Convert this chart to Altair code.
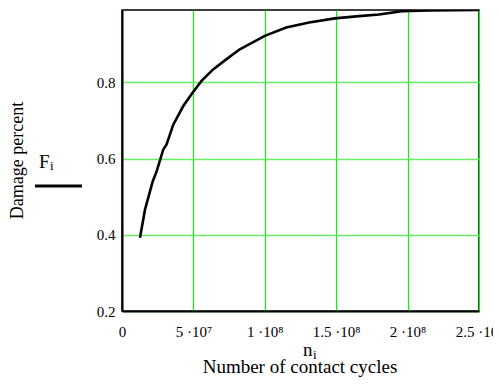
import altair as alt
import pandas as pd

# data
cycles = [1.26e7, 1.61e7, 2.15e7, 2.43e7, 2.89e7, 3.12e7, 3.59e7, 4.29e7, 4.94e7,
          5.57e7, 6.38e7, 7.32e7, 8.25e7, 1.0e8, 1.15e8, 1.31e8, 1.49e8, 1.66e8,
          1.80e8, 1.96e8, 2.15e8, 2.5e8]
damage = [0.392, 0.466, 0.54, 0.567, 0.624, 0.637, 0.689, 0.738, 0.773,
          0.804, 0.834, 0.861, 0.887, 0.922, 0.944, 0.957, 0.968, 0.974,
          0.978, 0.987, 0.989, 0.99]

x_ticks = [0, 5e7, 1e8, 1.5e8, 2e8, 2.5e8]
x_labels = ["0", "5 ·10⁷", "1 ·10⁸", "1.5 ·10⁸", "2 ·10⁸", "2.5 ·10⁸"]
y_ticks = [0.2, 0.4, 0.6, 0.8]

FONT = "Liberation Serif"

df = pd.DataFrame({"n": cycles, "F": damage})

expr = "'" + x_labels[-1] + "'"
for v, lab in reversed(list(zip(x_ticks[:-1], x_labels[:-1]))):
    expr = f"datum.value == {v} ? '{lab}' : " + expr

line = alt.Chart(df).mark_line(color="black", strokeWidth=2.6, clip=True).encode(
    x=alt.X("n:Q",
            scale=alt.Scale(domain=[0, 2.5e8], nice=False),
            axis=alt.Axis(values=x_ticks, labelExpr=expr, title=None,
                          grid=True, gridColor="#11ee11", gridWidth=1.2,
                          ticks=False, labelPadding=13, labelFontSize=15,
                          labelColor="black", labelFont=FONT,
                          domainColor="black", domainWidth=2, labelFlush=False)),
    y=alt.Y("F:Q",
            scale=alt.Scale(domain=[0.2, 0.99], nice=False, zero=False),
            axis=alt.Axis(values=y_ticks, format=".1f", title="Damage percent",
                          grid=True, gridColor="#66f066", gridWidth=1.5,
                          ticks=False, labelPadding=7, labelFontSize=15,
                          labelColor="black", labelFont=FONT,
                          titleFont=FONT,
                          titleFontSize=18, titleFontWeight="normal",
                          titleColor="black", titleX=-100, titleY=150,
                          titleBaseline="alphabetic", titleAngle=270,
                          domainColor="black", domainWidth=2)),
)

def txt(s, x, y, size, align="left"):
    return alt.Chart(pd.DataFrame({"t": [s]})).mark_text(
        font=FONT, fontSize=size, color="black", align=align, baseline="alphabetic"
    ).encode(text="t:N", x=alt.value(x), y=alt.value(y))

legend_line = alt.Chart(pd.DataFrame({"a": [0]})).mark_rule(
    color="black", strokeWidth=3).encode(
    x=alt.value(-87), x2=alt.value(-40), y=alt.value(176))

chart = alt.layer(
    line,
    txt("F", -83, 158, 19),
    txt("i", -72, 160, 13),
    txt("n", 181, 346, 19),
    txt("i", 191, 349, 13),
    txt("Number of contact cycles", 178, 363, 19, "center"),
    legend_line,
).properties(
    width=357, height=301,
    autosize=alt.AutoSizeParams(type="none"),
    padding={"left": 114, "top": 2, "right": 14, "bottom": 66},
).configure(font=FONT
).configure_view(stroke="black", strokeWidth=1.5
).configure_axis(labelFont=FONT, titleFont=FONT)

chart.save("out.html", embed_options={"renderer": "svg", "actions": False})
